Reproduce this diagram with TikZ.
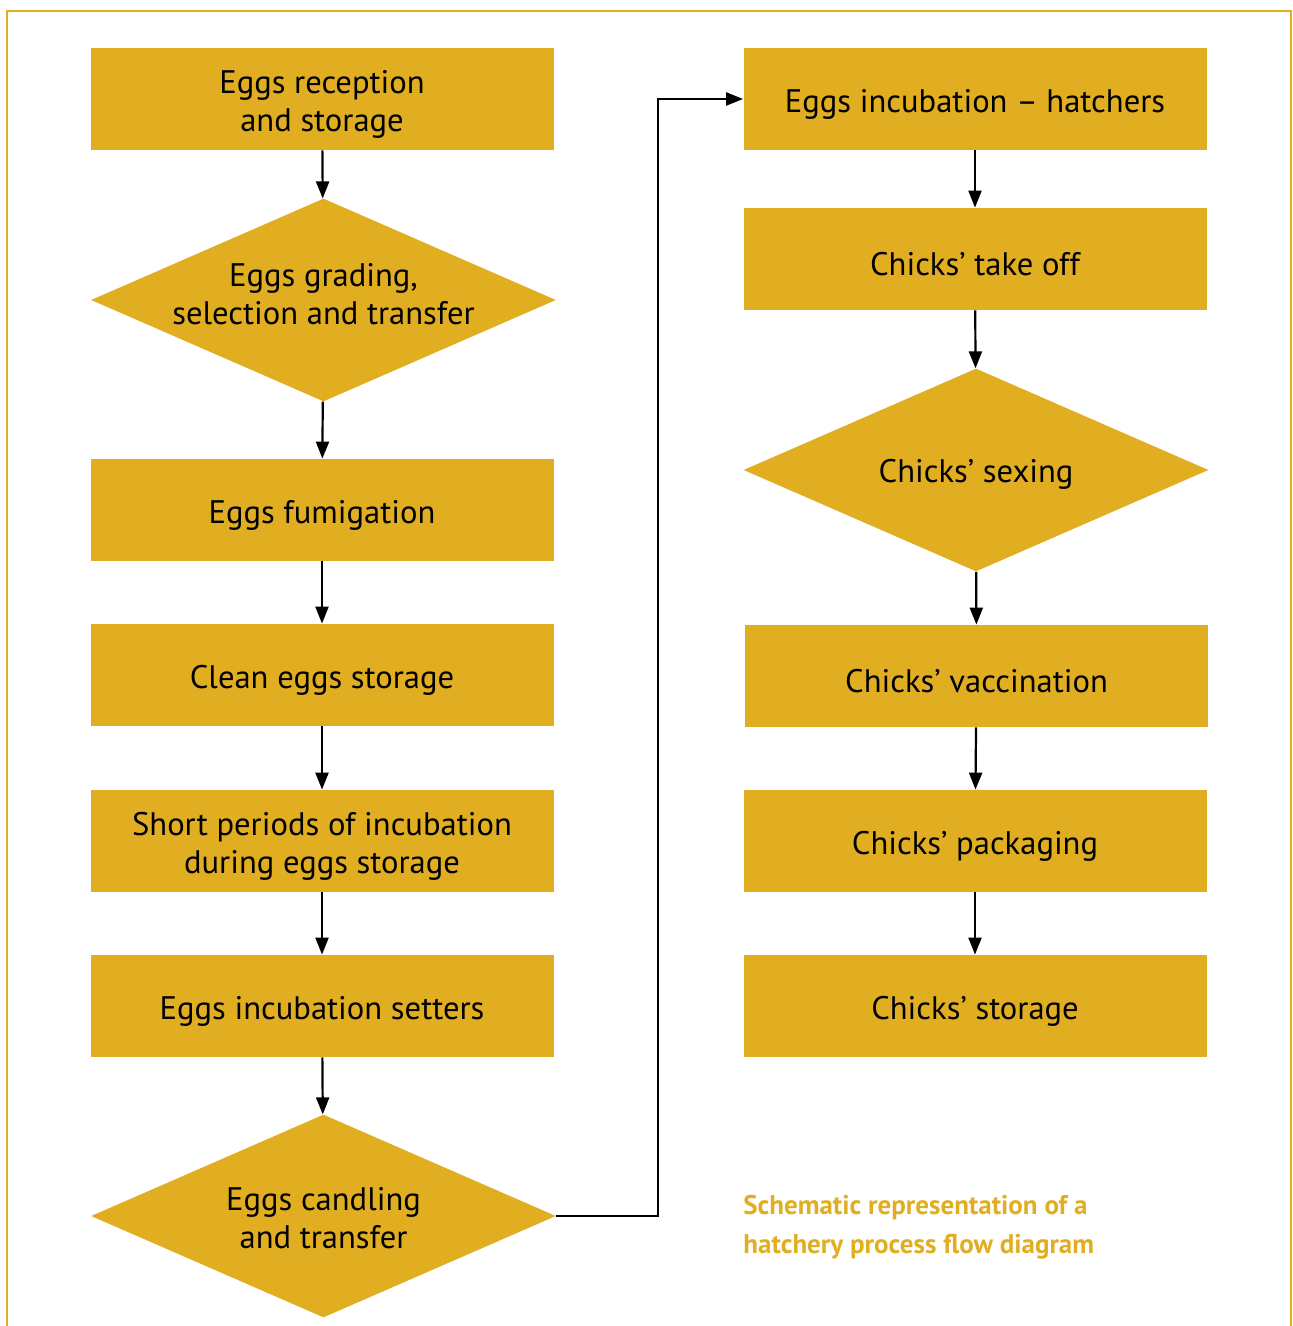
\documentclass[tikz,border=0pt]{standalone}
\usepackage{fontspec}
\setmainfont{PT Sans}
\usetikzlibrary{shapes.geometric,arrows.meta}
\definecolor{hgold}{RGB}{225,174,33}

\begin{document}
\begin{tikzpicture}[x=0.5pt,y=-0.5pt,
		stepbox/.style={rectangle, fill=hgold, minimum width=231.5pt, minimum height=51pt, inner sep=0pt, align=center, text height=16.7pt, font=\fontsize{16.3}{19}\selectfont},
		decision/.style={diamond, fill=hgold, aspect=2.29, minimum width=232.5pt, minimum height=101.5pt, inner sep=0pt},
		dtext/.style={align=center, inner sep=0pt, text height=16.7pt, font=\fontsize{16.3}{19}\selectfont},
		twoline/.style={text height=35.7pt},
		flow/.style={-{Triangle[length=8.5pt,width=6.5pt]}, line width=1.1pt}]

		% Page size and frame
		\useasboundingbox (0,0) rectangle (1293,1326);
		\draw[hgold, line width=1.3pt] (7,1326) -- (7,11) -- (1291,11) -- (1291,1326);

		% Left column
		\node[stepbox, twoline] (recv) at (322,99) {Eggs reception\\and storage};
		\node[decision] (grade) at (323.5,300) {};
		\node[dtext, twoline] (gradeT) at (323.5,289) {Eggs grading,\\selection and transfer};
		\node[stepbox] (fumi) at (322,510) {Eggs fumigation};
		\node[stepbox] (clean) at (322,675) {Clean eggs storage};
		\node[stepbox, twoline] (short) at (322,841) {Short periods of incubation\\during eggs storage};
		\node[stepbox] (setters) at (322,1006) {Eggs incubation setters};
		\node[decision] (candle) at (323.5,1216) {};
		\node[dtext, twoline] (candleT) at (323.5,1213) {Eggs candling\\and transfer};

		% Right column
		\node[stepbox] (hatch) at (975,99) {Eggs incubation -- hatchers};
		\node[stepbox] (takeoff) at (975,259) {Chicks' take off};
		\node[decision] (sexing) at (976,470) {};
		\node[dtext] (sexingT) at (976,469) {Chicks' sexing};
		\node[stepbox] (vacc) at (976.5,676) {Chicks' vaccination};
		\node[stepbox] (pack) at (975,841) {Chicks' packaging};
		\node[stepbox] (store) at (975,1006) {Chicks' storage};

		% Caption
		\node[anchor=west, inner sep=0pt, align=left, text=hgold, font=\bfseries\fontsize{13.5}{19.5}\selectfont] (caption) at (743,1227) {Schematic representation of a\\hatchery process flow diagram};

		% Arrows down the columns
		\draw[flow] (recv) -- (grade);
		\draw[flow] (grade) -- (fumi);
		\draw[flow] (fumi) -- (clean);
		\draw[flow] (clean) -- (short);
		\draw[flow] (short) -- (setters);
		\draw[flow] (setters) -- (candle);
		\draw[flow] (hatch) -- (takeoff);
		\draw[flow] (takeoff) -- (sexing);
		\draw[flow] (sexing) -- (vacc);
		\draw[flow] (vacc) -- (pack);
		\draw[flow] (pack) -- (store);

		% From candling over to the hatchers
		\coordinate (turn) at (658,1216);
		\draw[flow] (candle.east) -- (turn) |- (hatch.west);
	\end{tikzpicture}
\end{document}
